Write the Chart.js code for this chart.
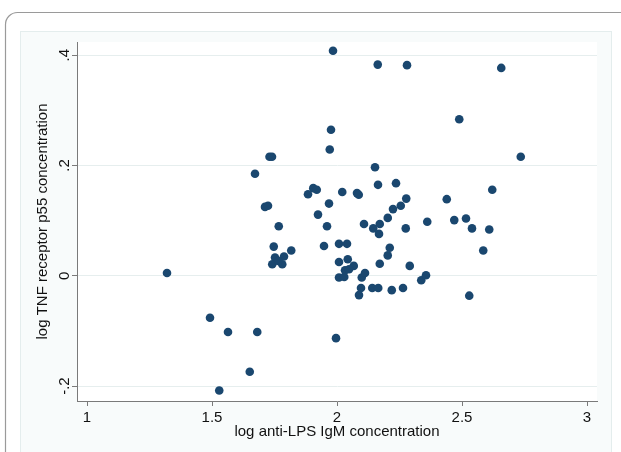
<!DOCTYPE html>
<html>
<head>
<meta charset="utf-8">
<script src="https://cdn.jsdelivr.net/npm/chart.js@4"></script>
<style>
  html, body { margin: 0; padding: 0; background: #fff; }
  canvas { display: block; }
</style>
</head>
<body>
<canvas id="scatter" width="621" height="452"></canvas>
<script>
// ==== data ====
const antiLps = [1.32, 1.492, 1.564, 1.529, 1.651, 1.681, 1.672, 1.73, 1.74, 1.712, 1.724, 1.767, 1.747, 1.817, 1.752, 1.788, 1.741, 1.781, 1.765,
  1.884, 1.905, 1.919, 1.924, 1.948, 1.96, 1.968, 1.971, 1.976, 1.984, 1.996, 2.008, 2.04, 2.021, 2.008, 2.043, 2.067, 2.032, 2.048, 2.008,
  2.029, 2.099, 2.112, 2.08, 2.087, 2.096, 2.088, 2.141, 2.165, 2.219, 2.264, 2.108, 2.145, 2.171, 2.168, 2.171, 2.152, 2.164, 2.236, 2.163,
  2.28, 2.203, 2.224, 2.255, 2.277, 2.275, 2.211, 2.203, 2.291, 2.337, 2.356, 2.361,
  2.439, 2.469, 2.516, 2.54, 2.609, 2.585, 2.621, 2.529, 2.489, 2.657, 2.735];
const tnfP55 = [0.005, -0.076, -0.102, -0.208, -0.174, -0.102, 0.185, 0.216, 0.216, 0.125, 0.127, 0.09, 0.053, 0.046, 0.033, 0.035, 0.021, 0.021, 0.027,
  0.148, 0.159, 0.156, 0.111, 0.054, 0.09, 0.131, 0.229, 0.265, 0.408, -0.113, 0.058, 0.058, 0.152, 0.025, 0.030, 0.018, 0.010, 0.012, -0.003,
  -0.002, -0.003, 0.005, 0.150, 0.147, -0.022, -0.035, -0.022, -0.022, -0.026, -0.022, 0.094, 0.086, 0.094, 0.076, 0.022, 0.197, 0.165, 0.168, 0.383,
  0.382, 0.105, 0.121, 0.127, 0.140, 0.086, 0.051, 0.037, 0.018, -0.008, 0.001, 0.098,
  0.139, 0.101, 0.104, 0.086, 0.084, 0.046, 0.156, -0.036, 0.284, 0.377, 0.216];

const xTitle = 'log anti-LPS IgM concentration';
const yTitle = 'log TNF receptor p55 concentration';

const points = antiLps.map((x, i) => ({ x: x, y: tnfP55[i] }));

const FONT = { family: '"Liberation Sans", Arial, sans-serif', size: 15 };
const TEXT = '#111';

// stata style number: .4, -.2
function stataNum(v) {
    const s = String(Number(v.toFixed(2)));
    return s.replace(/^(-?)0\./, '$1.');
}

// ==== frame behind the chart ====
const framePlugin = {
    id: 'frame',
    beforeDraw(chart) {
        const c = chart.ctx;
        const a = chart.chartArea;
        c.save();
        c.fillStyle = '#fff';
        c.fillRect(0, 0, chart.width, chart.height);
        // outer rounded border
        c.strokeStyle = '#9a9a9a';
        c.lineWidth = 1.2;
        c.beginPath();
        c.roundRect(5.5, 12.5, 800, 600, 12);
        c.stroke();
        // graph region
        c.fillStyle = '#f8fbfb';
        c.fillRect(20, 31, 592, 430);
        c.strokeStyle = '#e4eded';
        c.lineWidth = 1;
        c.strokeRect(20.5, 31.5, 591, 430);
        // plot region
        c.fillStyle = '#ffffff';
        c.fillRect(a.left, a.top, a.right - a.left, a.bottom - a.top);
        c.restore();
    }
};

const ctx = document.getElementById('scatter').getContext('2d');
const chart = new Chart(ctx, {
    type: 'scatter',
    data: {
        datasets: [{
            data: points,
            backgroundColor: '#1a476f',
            borderWidth: 0,
            pointRadius: 4.3,
            pointHoverRadius: 4.3
        }]
    },
    plugins: [framePlugin],
    options: {
        responsive: false,
        animation: false,
        devicePixelRatio: 1,
        layout: { padding: { top: 42, right: 24, left: 20, bottom: 0 } },
        plugins: {
            legend: { display: false },
            tooltip: { enabled: false }
        },
        scales: {
            x: {
                type: 'linear',
                min: 0.96,
                max: 3.04,
                afterFit(s) { s.height = 51; },
                border: { color: '#7a7a7a', width: 1 },
                grid: { drawOnChartArea: false, tickLength: 5, tickColor: '#7a7a7a' },
                ticks: {
                    stepSize: 0.5,
                    includeBounds: false,
                    padding: 3,
                    color: TEXT,
                    font: FONT,
                    maxRotation: 0,
                    callback: v => stataNum(v)
                },
                title: { display: true, text: xTitle, color: TEXT, font: FONT, padding: { top: 0, bottom: 11 } }
            },
            y: {
                type: 'linear',
                min: -0.227,
                max: 0.424,
                afterFit(s) { s.width = 57; },
                border: { color: '#7a7a7a', width: 1 },
                grid: { color: '#e6eeee', lineWidth: 1, tickLength: 5, tickColor: '#7a7a7a' },
                ticks: {
                    stepSize: 0.2,
                    includeBounds: false,
                    minRotation: 90,
                    maxRotation: 90,
                    crossAlign: 'center',
                    padding: -2,
                    color: TEXT,
                    font: FONT,
                    callback: v => stataNum(v)
                },
                title: { display: true, text: yTitle, color: TEXT, font: FONT, padding: { top: 14, bottom: 0 } }
            }
        }
    }
});
</script>
</body>
</html>
